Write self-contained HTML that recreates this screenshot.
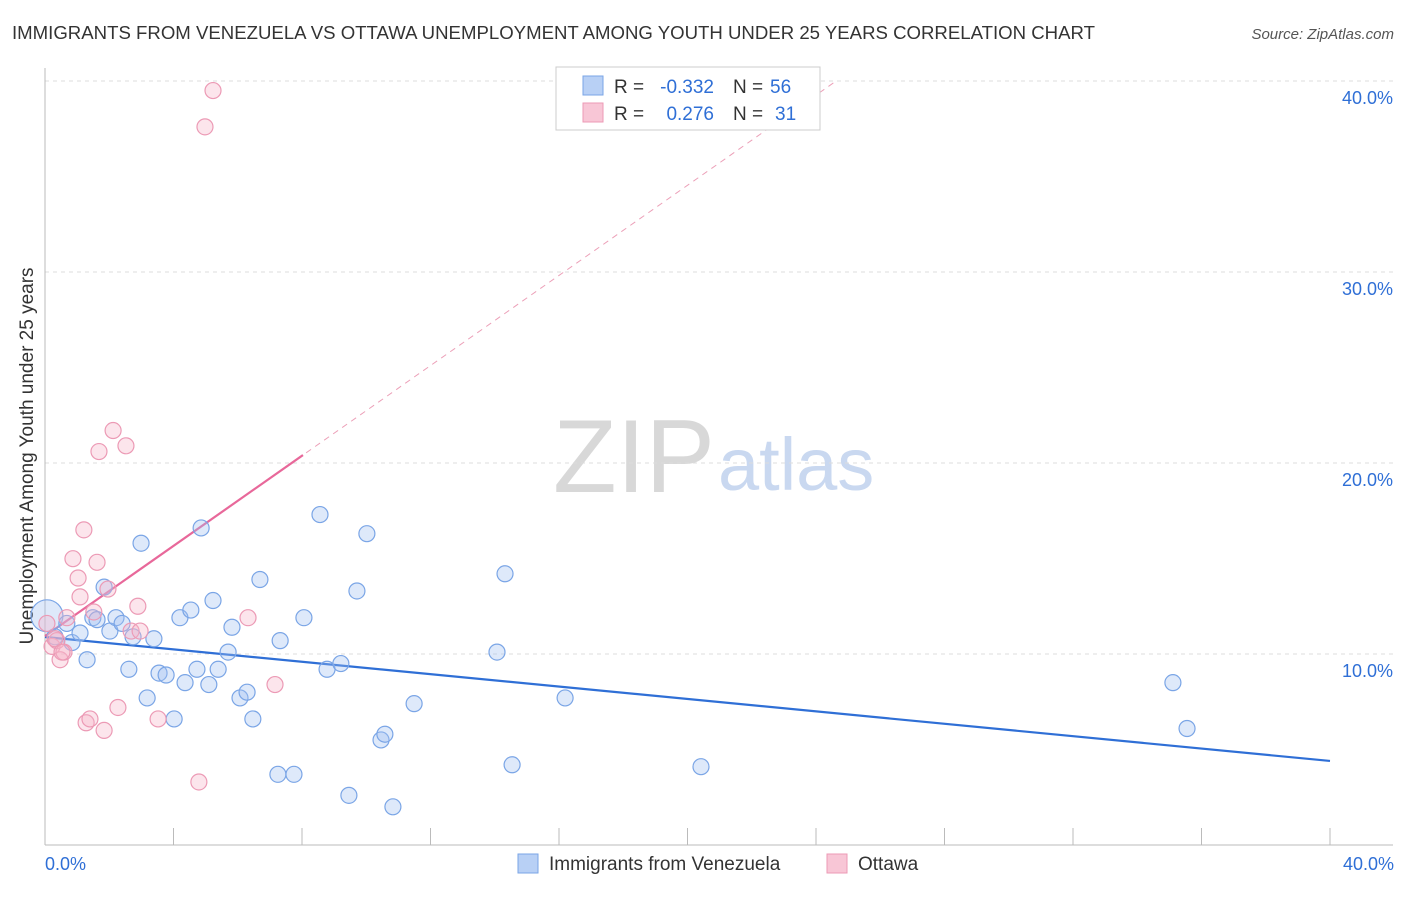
<!DOCTYPE html>
<html><head><meta charset="utf-8"><style>
body{margin:0;background:#fff;font-family:"Liberation Sans",sans-serif;}
svg text{font-family:"Liberation Sans",sans-serif;}
</style></head><body>
<svg id="chart" width="1406" height="892">
<text x="12" y="39" font-size="18" fill="#333" textLength="1083" lengthAdjust="spacingAndGlyphs">IMMIGRANTS FROM VENEZUELA VS OTTAWA UNEMPLOYMENT AMONG YOUTH UNDER 25 YEARS CORRELATION CHART</text>
<text x="1394" y="39" font-size="15" fill="#555" font-style="italic" text-anchor="end">Source: ZipAtlas.com</text>
<text x="553" y="492" font-size="104" fill="#d8d8d8" font-family="Liberation Serif" textLength="162" lengthAdjust="spacingAndGlyphs">ZIP</text>
<text x="718" y="490" font-size="74" fill="#c9d8f0">atlas</text>
<g id="grid"></g><g id="axes"></g>
<text transform="translate(33,456) rotate(-90)" font-size="19" fill="#333" text-anchor="middle">Unemployment Among Youth under 25 years</text>
<g id="lines"></g><g id="points"></g>
<g>
<rect x="556" y="67" width="264" height="63" fill="#fff" stroke="#ccc"/>
<rect x="583" y="76" width="20" height="19" fill="#b8d0f5" stroke="#7aa5e6"/>
<rect x="583" y="103" width="20" height="19" fill="#f8c6d6" stroke="#ec9ab5"/>
<text x="614" y="93" font-size="19" fill="#333">R =</text>
<text x="714" y="93" font-size="19" fill="#2f6fd6" text-anchor="end">-0.332</text>
<text x="733" y="93" font-size="19" fill="#333">N =</text>
<text x="770" y="93" font-size="19" fill="#2f6fd6">56</text>
<text x="614" y="120" font-size="19" fill="#333">R =</text>
<text x="714" y="120" font-size="19" fill="#2f6fd6" text-anchor="end">0.276</text>
<text x="733" y="120" font-size="19" fill="#333">N =</text>
<text x="775" y="120" font-size="19" fill="#2f6fd6">31</text>
</g>
<g>
<rect x="518" y="854" width="20" height="19" fill="#b8d0f5" stroke="#7aa5e6"/>
<text x="549" y="870" font-size="19" fill="#333">Immigrants from Venezuela</text>
<rect x="827" y="854" width="20" height="19" fill="#f8c6d6" stroke="#ec9ab5"/>
<text x="858" y="870" font-size="19" fill="#333">Ottawa</text>
</g>
</svg>
<script>
const yTicks=[10,20,30,40];
const xTickLabels=["0.0%","40.0%"];
const blueX=[0.06,0.31,0.68,0.84,1.09,1.31,1.49,1.62,1.84,2.02,2.21,2.40,2.74,2.99,2.61,3.18,3.39,3.55,3.77,4.02,4.20,4.36,4.54,4.73,4.86,5.10,5.23,5.39,5.70,5.82,6.07,6.29,6.47,6.69,7.25,7.32,7.75,8.06,8.56,8.78,9.21,9.46,9.71,10.02,10.46,10.58,10.83,11.49,14.07,14.32,14.54,16.19,20.42,35.11,35.55];
const blueY=[12.0,10.9,11.6,10.6,11.1,9.7,11.9,11.8,13.5,11.2,11.9,11.6,10.9,15.8,9.2,7.7,10.8,9.0,8.9,6.6,11.9,8.5,12.3,9.2,16.6,8.4,12.8,9.2,10.1,11.4,7.7,8.0,6.6,13.9,3.7,10.7,3.7,11.9,17.3,9.2,9.5,2.6,13.3,16.3,5.5,5.8,2.0,7.4,10.1,14.2,4.2,7.7,4.1,8.5,6.1];
const pinkX=[0.06,0.22,0.37,0.47,0.59,0.68,0.87,1.03,1.09,1.21,1.28,1.40,1.52,1.62,1.68,1.84,1.96,2.12,2.27,2.52,2.68,2.89,2.96,3.52,4.79,4.98,5.23,6.32,7.16,0.31,0.53];
const pinkY=[11.6,10.4,10.7,9.7,10.1,11.9,14.99,13.98,12.99,16.5,6.4,6.6,12.2,14.8,20.6,6.0,13.4,21.7,7.2,20.9,11.2,12.5,11.2,6.6,3.3,37.6,39.5,11.9,8.4,10.8,10.1];
const blueFit=[10.89,4.40];
const pinkFit=[10.94,1.18];
const NS="http://www.w3.org/2000/svg";
const X=v=>45+v*32.125, Y=v=>845-v*19.1;
function mk(t,a,p){const e=document.createElementNS(NS,t);for(const k in a)e.setAttribute(k,a[k]);p.appendChild(e);return e;}
const grid=document.getElementById('grid'),axes=document.getElementById('axes');
yTicks.forEach(t=>{
 const l=mk('line',{x1:45,x2:1393,y1:Y(t),y2:Y(t),stroke:'#ddd','stroke-dasharray':'4,4'},grid);
 
 
 const tx=mk('text',{x:1393,y:Y(t)+23,'font-size':18,fill:'#2f6fd6','text-anchor':'end'},axes);
 tx.textContent=t.toFixed(1)+'%';
 
 
});
mk('line',{x1:45,x2:45,y1:68,y2:845,stroke:'#bbb'},axes);
mk('line',{x1:45,x2:1393,y1:845,y2:845,stroke:'#bbb'},axes);
for(let i=1;i<=10;i++){const t=mk('line',{x1:X(i*4),x2:X(i*4),y1:828,y2:845,stroke:'#bbb'},axes);
 
 }
const xl0=mk('text',{x:45,y:870,'font-size':18,fill:'#2f6fd6'},axes);xl0.textContent=xTickLabels[0];


const xl1=mk('text',{x:1394,y:870,'font-size':18,fill:'#2f6fd6','text-anchor':'end'},axes);xl1.textContent=xTickLabels[1];


const pts=document.getElementById('points');
blueX.forEach((x,i)=>{const c=mk('circle',{cx:X(x),cy:Y(blueY[i]),r:i==0?16:8,fill:'rgba(160,192,240,0.35)',stroke:'#7aa5e6','stroke-width':1.2},pts);
 
 });
pinkX.forEach((x,i)=>{const c=mk('circle',{cx:X(x),cy:Y(pinkY[i]),r:8,fill:'rgba(245,180,200,0.35)',stroke:'#ec9ab5','stroke-width':1.2},pts);
 
 });
const ln=document.getElementById('lines');
const bl=mk('line',{x1:X(0),y1:Y(blueFit[0]),x2:X(40),y2:Y(blueFit[1]),stroke:'#2f6fd6','stroke-width':2.2},ln);


const pe=Math.min(40,(40-pinkFit[0])/pinkFit[1]);
const pd=mk('line',{x1:X(0),y1:Y(pinkFit[0]),x2:X(pe),y2:Y(pinkFit[0]+pinkFit[1]*pe),stroke:'#eca0b8','stroke-width':1,'stroke-dasharray':'6,5'},ln);


const ps=mk('line',{x1:X(0),y1:Y(pinkFit[0]),x2:X(8.03),y2:Y(pinkFit[0]+pinkFit[1]*8.03),stroke:'#e8689a','stroke-width':2.2},ln);


</script>
</body></html>
